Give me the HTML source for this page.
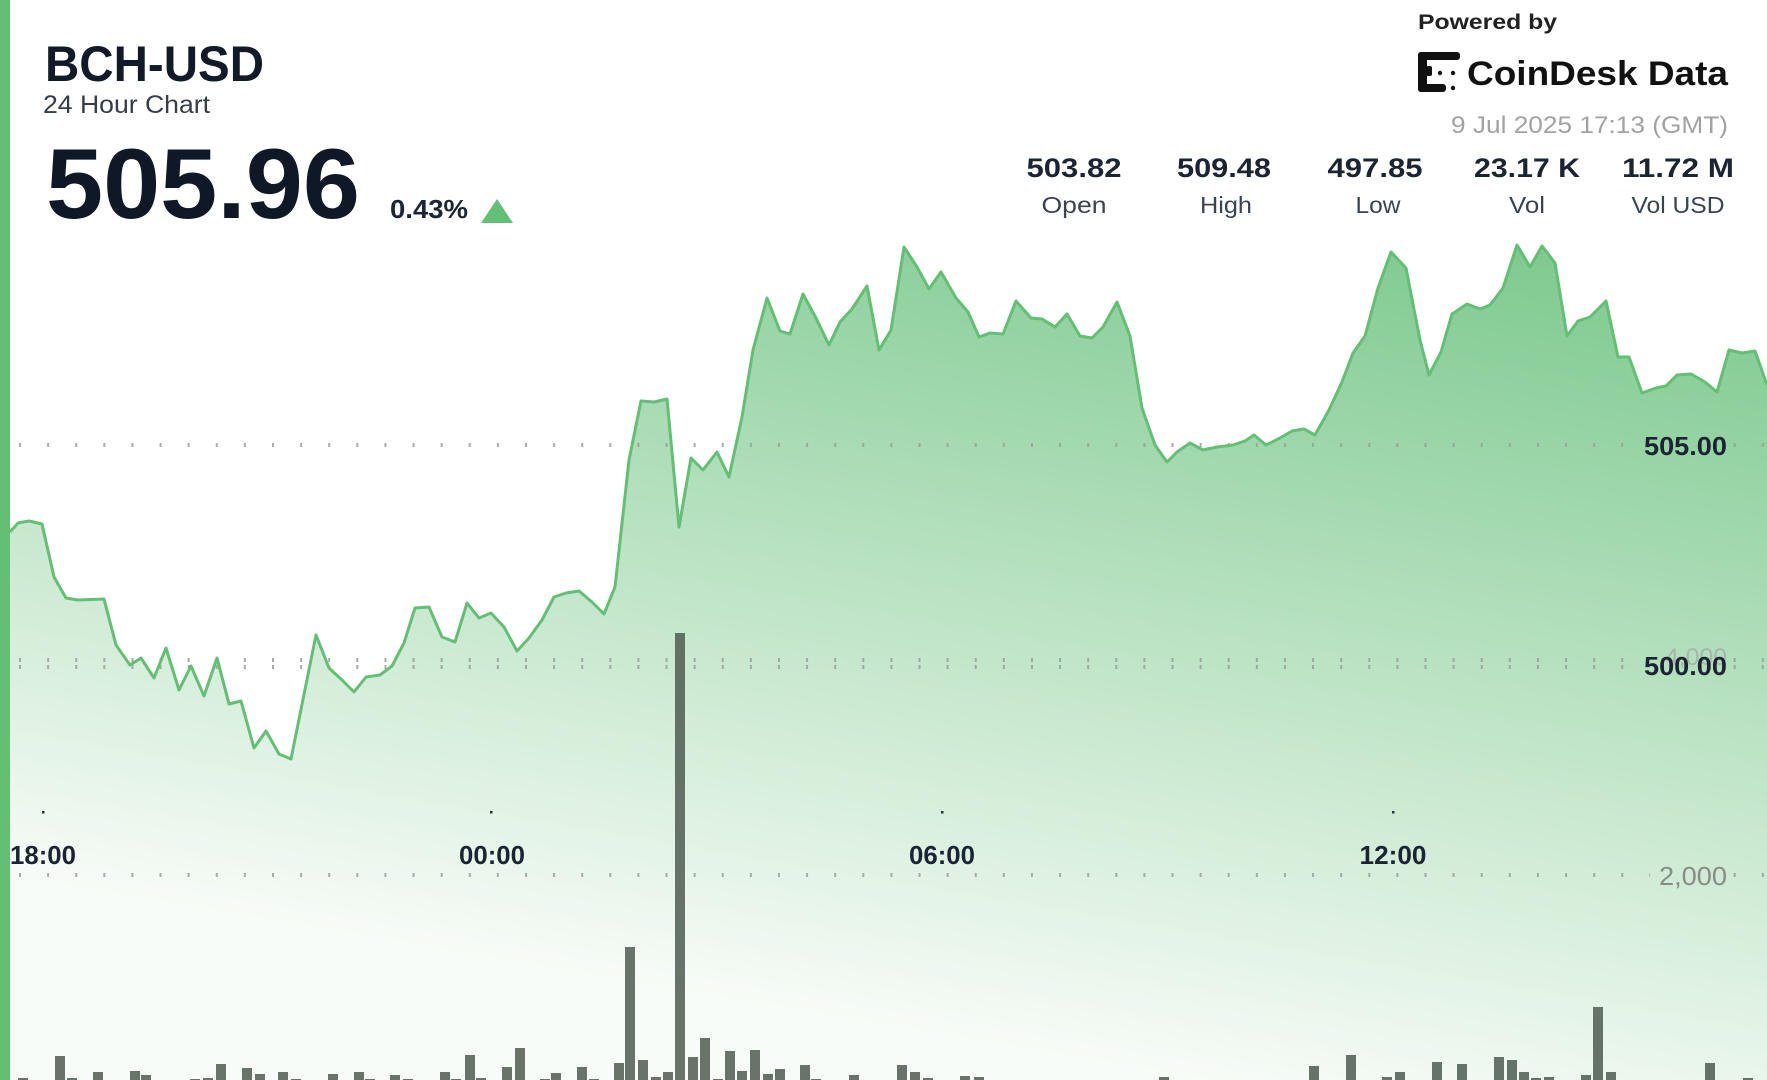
<!DOCTYPE html>
<html>
<head>
<meta charset="utf-8">
<style>
html,body{margin:0;padding:0;background:#fff;}
svg{display:block;}
text{font-family:"Liberation Sans",Arial,sans-serif;}
</style>
</head>
<body>
<svg width="1767" height="1080" viewBox="0 0 1767 1080" xmlns="http://www.w3.org/2000/svg">
<defs>
<linearGradient id="fillg" gradientUnits="userSpaceOnUse" x1="884" y1="1034" x2="1040" y2="117">
<stop offset="0" stop-color="#f8fcf8"/>
<stop offset="1" stop-color="#78c78a"/>
</linearGradient>
</defs>
<rect x="0" y="0" width="1767" height="1080" fill="#ffffff"/>
<path fill="url(#fillg)" d="M10,1080 L10,532 18,523 29,521 42,524 54,577 66,598 78,600 104,599 116,645 130,665 141,658 154,678 166,648 179,690 191,666 204,696 217,658 229,704 241,701 254,748 266,731 279,754 291,759 316,635 329,668 342,680 354,692 366,677 380,675 392,666 404,643 415,608 429,607 442,637 455,642 467,603 479,618 491,613 504,627 517,651 529,638 542,620 554,597 566,593 579,591 592,602 604,614 615,587 629,460 641,401 654,402 667,399 679,527 691,458 703,470 717,452 729,477 742,417 753,350 767,298 780,331 790,334 803,294 816,318 829,345 840,322 852,309 867,286 879,350 891,330 904,247 917,267 929,289 941,272 956,298 968,312 979,337 990,333 1003,334 1016,301 1031,318 1042,319 1055,327 1067,314 1080,336 1092,338 1103,327 1117,302 1130,336 1142,408 1155,445 1167,462 1177,452 1190,443 1203,450 1217,447 1233,445 1245,441 1254,435 1266,445 1280,438 1292,431 1304,429 1315,435 1329,410 1342,382 1353,353 1365,336 1378,288 1391,252 1406,268 1420,340 1429,375 1441,352 1452,314 1467,304 1480,309 1490,305 1503,288 1517,245 1530,267 1542,246 1555,263 1567,336 1578,321 1590,317 1606,301 1618,357 1629,357 1642,393 1656,388 1666,386 1677,375 1691,374 1705,382 1717,392 1729,350 1742,353 1755,351 1767,385 L1767,1080 Z"/>
<g stroke="#9a9d9a" stroke-width="4" stroke-dasharray="2 26.11" fill="none" opacity="0.85">
<line x1="19" y1="445" x2="1640" y2="445"/>
<line x1="1733.7" y1="445" x2="1767" y2="445"/>
<line x1="19" y1="660" x2="1640" y2="660"/>
<line x1="1733.7" y1="660" x2="1767" y2="660"/>
<line x1="19" y1="667" x2="1640" y2="667"/>
<line x1="1733.7" y1="667" x2="1767" y2="667"/>
<line x1="19" y1="875" x2="1650" y2="875"/>
<line x1="1733.7" y1="875" x2="1767" y2="875"/>
</g>
<g fill="#4f5c51" opacity="0.85">
<rect x="18" y="1078" width="10" height="2"/>
<rect x="55" y="1056" width="10" height="24"/>
<rect x="67" y="1078" width="10" height="2"/>
<rect x="93" y="1072" width="10" height="8"/>
<rect x="130" y="1071" width="10" height="9"/>
<rect x="141" y="1075" width="10" height="5"/>
<rect x="190" y="1079" width="10" height="1"/>
<rect x="203" y="1078" width="10" height="2"/>
<rect x="216" y="1064" width="10" height="16"/>
<rect x="242" y="1068" width="10" height="12"/>
<rect x="255" y="1074" width="10" height="6"/>
<rect x="278" y="1072" width="10" height="8"/>
<rect x="291" y="1079" width="10" height="1"/>
<rect x="328" y="1074" width="10" height="6"/>
<rect x="354" y="1072" width="10" height="8"/>
<rect x="365" y="1079" width="10" height="1"/>
<rect x="390" y="1075" width="10" height="5"/>
<rect x="403" y="1079" width="10" height="1"/>
<rect x="440" y="1072" width="10" height="8"/>
<rect x="451" y="1079" width="10" height="1"/>
<rect x="465" y="1055" width="10" height="25"/>
<rect x="476" y="1078" width="10" height="2"/>
<rect x="502" y="1067" width="10" height="13"/>
<rect x="515" y="1048" width="10" height="32"/>
<rect x="540" y="1079" width="10" height="1"/>
<rect x="551" y="1073" width="10" height="7"/>
<rect x="577" y="1067" width="10" height="13"/>
<rect x="589" y="1079" width="10" height="1"/>
<rect x="614" y="1063" width="10" height="17"/>
<rect x="625" y="947" width="10" height="133"/>
<rect x="638" y="1060" width="10" height="20"/>
<rect x="651" y="1077" width="10" height="3"/>
<rect x="663" y="1072" width="10" height="8"/>
<rect x="675" y="633" width="10" height="447"/>
<rect x="688" y="1057" width="10" height="23"/>
<rect x="700" y="1038" width="10" height="42"/>
<rect x="713" y="1079" width="10" height="1"/>
<rect x="725" y="1051" width="10" height="29"/>
<rect x="737" y="1071" width="10" height="9"/>
<rect x="750" y="1050" width="10" height="30"/>
<rect x="763" y="1074" width="10" height="6"/>
<rect x="775" y="1069" width="10" height="11"/>
<rect x="800" y="1065" width="10" height="15"/>
<rect x="811" y="1079" width="10" height="1"/>
<rect x="849" y="1075" width="10" height="5"/>
<rect x="897" y="1065" width="10" height="15"/>
<rect x="910" y="1072" width="10" height="8"/>
<rect x="923" y="1078" width="10" height="2"/>
<rect x="960" y="1076" width="10" height="4"/>
<rect x="974" y="1077" width="10" height="3"/>
<rect x="1159" y="1077" width="10" height="3"/>
<rect x="1309" y="1066" width="10" height="14"/>
<rect x="1346" y="1055" width="10" height="25"/>
<rect x="1382" y="1077" width="10" height="3"/>
<rect x="1395" y="1072" width="10" height="8"/>
<rect x="1432" y="1062" width="10" height="18"/>
<rect x="1457" y="1064" width="10" height="16"/>
<rect x="1494" y="1057" width="10" height="23"/>
<rect x="1507" y="1060" width="10" height="20"/>
<rect x="1519" y="1072" width="10" height="8"/>
<rect x="1531" y="1078" width="10" height="2"/>
<rect x="1544" y="1077" width="10" height="3"/>
<rect x="1581" y="1075" width="10" height="5"/>
<rect x="1593" y="1007" width="10" height="73"/>
<rect x="1606" y="1072" width="10" height="8"/>
<rect x="1705" y="1063" width="10" height="17"/>
<rect x="1743" y="1078" width="10" height="2"/>
</g>
<polyline fill="none" stroke="#62bf74" stroke-width="3" stroke-linejoin="round" points="10,532 18,523 29,521 42,524 54,577 66,598 78,600 104,599 116,645 130,665 141,658 154,678 166,648 179,690 191,666 204,696 217,658 229,704 241,701 254,748 266,731 279,754 291,759 316,635 329,668 342,680 354,692 366,677 380,675 392,666 404,643 415,608 429,607 442,637 455,642 467,603 479,618 491,613 504,627 517,651 529,638 542,620 554,597 566,593 579,591 592,602 604,614 615,587 629,460 641,401 654,402 667,399 679,527 691,458 703,470 717,452 729,477 742,417 753,350 767,298 780,331 790,334 803,294 816,318 829,345 840,322 852,309 867,286 879,350 891,330 904,247 917,267 929,289 941,272 956,298 968,312 979,337 990,333 1003,334 1016,301 1031,318 1042,319 1055,327 1067,314 1080,336 1092,338 1103,327 1117,302 1130,336 1142,408 1155,445 1167,462 1177,452 1190,443 1203,450 1217,447 1233,445 1245,441 1254,435 1266,445 1280,438 1292,431 1304,429 1315,435 1329,410 1342,382 1353,353 1365,336 1378,288 1391,252 1406,268 1420,340 1429,375 1441,352 1452,314 1467,304 1480,309 1490,305 1503,288 1517,245 1530,267 1542,246 1555,263 1567,336 1578,321 1590,317 1606,301 1618,357 1629,357 1642,393 1656,388 1666,386 1677,375 1691,374 1705,382 1717,392 1729,350 1742,353 1755,351 1767,385"/>
<g fill="#2a3340">
<rect x="42" y="811" width="2.5" height="2.5"/>
<rect x="490" y="811" width="2.5" height="2.5"/>
<rect x="941" y="811" width="2.5" height="2.5"/>
<rect x="1392" y="811" width="2.5" height="2.5"/>
</g>
<g font-weight="bold" font-size="26" fill="#1b2433" text-anchor="middle">
<text x="43" y="864" textLength="66" lengthAdjust="spacingAndGlyphs">18:00</text>
<text x="492" y="864" textLength="66" lengthAdjust="spacingAndGlyphs">00:00</text>
<text x="942" y="864" textLength="66" lengthAdjust="spacingAndGlyphs">06:00</text>
<text x="1393" y="864" textLength="67" lengthAdjust="spacingAndGlyphs">12:00</text>
</g>
<text x="1727" y="665" font-size="24" fill="#a3aea4" opacity="0.8" text-anchor="end" textLength="62" lengthAdjust="spacingAndGlyphs">4,000</text>
<text x="1727" y="455" font-size="26" font-weight="bold" fill="#1b2433" text-anchor="end" textLength="83" lengthAdjust="spacingAndGlyphs">505.00</text>
<text x="1727" y="675" font-size="26" font-weight="bold" fill="#1b2433" text-anchor="end" textLength="83" lengthAdjust="spacingAndGlyphs">500.00</text>
<text x="1727" y="885" font-size="26" fill="#858d86" text-anchor="end" textLength="68" lengthAdjust="spacingAndGlyphs">2,000</text>
<text x="45" y="81" font-size="50" font-weight="bold" fill="#111a28" textLength="219" lengthAdjust="spacingAndGlyphs">BCH-USD</text>
<text x="43" y="113" font-size="25" fill="#353d48" textLength="167" lengthAdjust="spacingAndGlyphs">24 Hour Chart</text>
<text x="46" y="218" font-size="99" font-weight="bold" fill="#0f1826" textLength="314" lengthAdjust="spacingAndGlyphs">505.96</text>
<text x="390" y="218" font-size="26" font-weight="bold" fill="#1c2533" textLength="78" lengthAdjust="spacingAndGlyphs">0.43%</text>
<polygon points="481,223 513,223 497,199" fill="#63bf75"/>
<text x="1418" y="29" font-size="21" font-weight="bold" fill="#222" textLength="139" lengthAdjust="spacingAndGlyphs">Powered by</text>
<g fill="#111">
<rect x="1418" y="52" width="42" height="8" rx="3"/>
<rect x="1418" y="52" width="9" height="40" rx="3"/>
<rect x="1418" y="84" width="28" height="8" rx="3"/>
<rect x="1426" y="66" width="6" height="10" rx="2"/>
<circle cx="1440" cy="73" r="2.2"/>
<circle cx="1453" cy="73" r="2.2"/>
<circle cx="1453" cy="88" r="2.2"/>
</g>
<text x="1467" y="85" font-size="34" font-weight="bold" fill="#111" textLength="261" lengthAdjust="spacingAndGlyphs">CoinDesk Data</text>
<text x="1728" y="133" font-size="24" fill="#a2a2a2" text-anchor="end" textLength="277" lengthAdjust="spacingAndGlyphs">9 Jul 2025 17:13 (GMT)</text>
<g font-size="27" font-weight="bold" fill="#1b2433" text-anchor="middle">
<text x="1074" y="177" textLength="95" lengthAdjust="spacingAndGlyphs">503.82</text>
<text x="1224" y="177" textLength="94" lengthAdjust="spacingAndGlyphs">509.48</text>
<text x="1375" y="177" textLength="95" lengthAdjust="spacingAndGlyphs">497.85</text>
<text x="1527" y="177" textLength="106" lengthAdjust="spacingAndGlyphs">23.17 K</text>
<text x="1678" y="177" textLength="112" lengthAdjust="spacingAndGlyphs">11.72 M</text>
</g>
<g font-size="23" fill="#3a4350" text-anchor="middle">
<text x="1074" y="213" textLength="65" lengthAdjust="spacingAndGlyphs">Open</text>
<text x="1226" y="213" textLength="52" lengthAdjust="spacingAndGlyphs">High</text>
<text x="1378" y="213" textLength="45" lengthAdjust="spacingAndGlyphs">Low</text>
<text x="1527" y="213" textLength="36" lengthAdjust="spacingAndGlyphs">Vol</text>
<text x="1678" y="213" textLength="93" lengthAdjust="spacingAndGlyphs">Vol USD</text>
</g>
<rect x="0" y="0" width="10" height="1080" fill="#62bf74"/>
</svg>
</body>
</html>
